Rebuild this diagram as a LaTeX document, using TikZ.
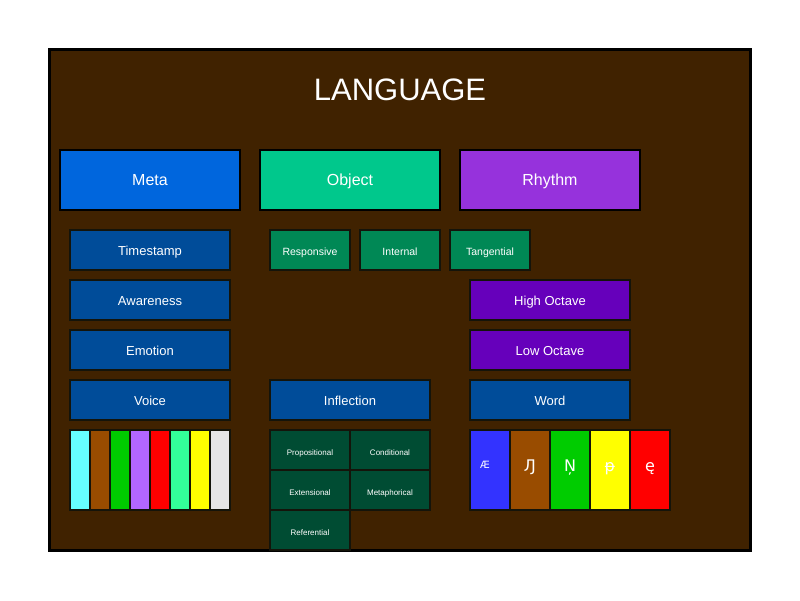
\documentclass[tikz,border=0pt]{standalone}
\usepackage{fontspec}
\setmainfont{Liberation Sans}
\newfontfamily\glyphfont{DejaVu Sans}
\definecolor{bgbrown}{RGB}{64,34,0}
\definecolor{metablue}{RGB}{0,102,221}
\definecolor{objgreen}{RGB}{0,200,140}
\definecolor{rhypurple}{RGB}{150,50,220}
\definecolor{darkblue}{RGB}{0,76,153}
\definecolor{midgreen}{RGB}{0,136,85}
\definecolor{octpurple}{RGB}{102,0,187}
\definecolor{deepgreen}{RGB}{0,76,51}
\definecolor{cyanx}{RGB}{102,255,255}
\definecolor{brownx}{RGB}{153,76,0}
\definecolor{greenx}{RGB}{0,204,0}
\definecolor{lilacx}{RGB}{178,102,255}
\definecolor{redx}{RGB}{255,0,0}
\definecolor{mintx}{RGB}{51,255,153}
\definecolor{yellowx}{RGB}{255,255,0}
\definecolor{grayx}{RGB}{230,230,230}
\definecolor{bluex}{RGB}{51,51,255}
\definecolor{edge}{RGB}{20,20,10}
\tikzset{
  box/.style={draw=black, inner sep=0pt, text=white, align=center, text height=1.08em, text depth=0.02em},
  headbox/.style={box, line width=2pt, minimum width=180pt, minimum height=60pt, font=\fontsize{16}{18}\selectfont},
  rowbox/.style={box, line width=2pt, draw=edge, minimum width=160pt, minimum height=40pt, font=\fontsize{13}{15}\selectfont},
  tagbox/.style={box, line width=2pt, draw=edge, minimum width=80pt, minimum height=40pt, font=\fontsize{10.5}{12}\selectfont},
  gridbox/.style={box, line width=2pt, draw=edge, fill=deepgreen, minimum width=80pt, minimum height=40pt, font=\fontsize{8}{10}\selectfont},
  stripe/.style={box, line width=2pt, draw=edge, minimum width=20pt, minimum height=80pt},
  glyphbox/.style={box, line width=2pt, draw=edge, minimum width=40pt, minimum height=80pt, font=\glyphfont\fontsize{16}{18}\selectfont},
}
\begin{document}
\begin{tikzpicture}[x=1pt,y=-1pt]
\fill[white] (0,0) rectangle (800,600);
\useasboundingbox (0,0) rectangle (800,600);
\node[draw=black, line width=3pt, fill=bgbrown, minimum width=701pt, minimum height=501pt, inner sep=0pt] (frame) at (400,300) {};
\node[text=white, font=\fontsize{31}{34}\selectfont] (title) at (400,90) {LANGUAGE};
% headers
\node[headbox, fill=metablue] (meta) at (150,180) {Meta};
\node[headbox, fill=objgreen] (object) at (350,180) {Object};
\node[headbox, fill=rhypurple] (rhythm) at (550,180) {Rhythm};
% meta column
\node[rowbox, fill=darkblue] (timestamp) at (150,250) {Timestamp};
\node[rowbox, fill=darkblue] (awareness) at (150,300) {Awareness};
\node[rowbox, fill=darkblue] (emotion) at (150,350) {Emotion};
\node[rowbox, fill=darkblue] (voice) at (150,400) {Voice};
% object tags
\node[tagbox, fill=midgreen] (responsive) at (310,250) {Responsive};
\node[tagbox, fill=midgreen] (internal) at (400,250) {Internal};
\node[tagbox, fill=midgreen] (tangential) at (490,250) {Tangential};
% rhythm column
\node[rowbox, fill=octpurple] (high) at (550,300) {High Octave};
\node[rowbox, fill=octpurple] (low) at (550,350) {Low Octave};
\node[rowbox, fill=darkblue] (inflection) at (350,400) {Inflection};
\node[rowbox, fill=darkblue] (word) at (550,400) {Word};
% stripes
\node[stripe, fill=cyanx] (s1) at (80,470) {};
\node[stripe, fill=brownx] (s2) at (100,470) {};
\node[stripe, fill=greenx] (s3) at (120,470) {};
\node[stripe, fill=lilacx] (s4) at (140,470) {};
\node[stripe, fill=redx] (s5) at (160,470) {};
\node[stripe, fill=mintx] (s6) at (180,470) {};
\node[stripe, fill=yellowx] (s7) at (200,470) {};
\node[stripe, fill=grayx] (s8) at (220,470) {};
% inflection grid
\node[gridbox] (prop) at (310,450) {Propositional};
\node[gridbox] (cond) at (390,450) {Conditional};
\node[gridbox] (ext) at (310,490) {Extensional};
\node[gridbox] (metaph) at (390,490) {Metaphorical};
\node[gridbox] (ref) at (310,530) {Referential};
% glyphs
\node[glyphbox, fill=bluex] (g1) at (490,470) {\raisebox{7pt}{\hspace*{-10pt}\fontsize{10}{12}\selectfont Æ}};
\node[glyphbox, fill=brownx] (g2) at (530,470) {\raisebox{4pt}{Ԓ}};
\node[glyphbox, fill=greenx] (g3) at (570,470) {\raisebox{4pt}{Ņ}};
\node[glyphbox, fill=yellowx] (g4) at (610,470) {\raisebox{4pt}{ᵽ}};
\node[glyphbox, fill=redx] (g5) at (650,470) {\raisebox{4pt}{ę}};
\end{tikzpicture}
\end{document}
